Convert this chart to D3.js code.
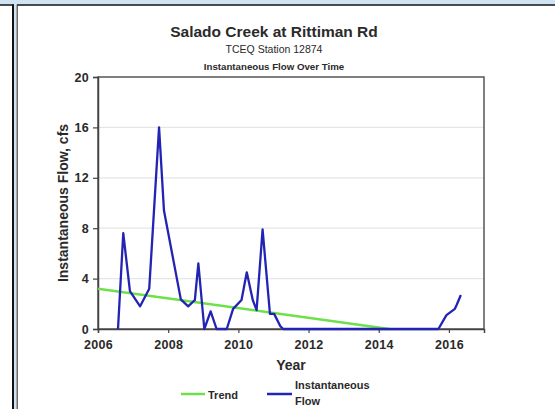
<!DOCTYPE html>
<html>
<head>
<meta charset="utf-8">
<script src="https://cdn.jsdelivr.net/npm/d3@7"></script>
<style>
  html, body { margin: 0; padding: 0; background: #fff; }
  svg { display: block; font-family: "Liberation Sans", Arial, sans-serif; }
</style>
</head>
<body>
<svg id="chart" width="555" height="409"></svg>
<script>
// Sampled instantaneous flow (decimal year, cfs)
const flowYears = [2006.57, 2006.72, 2006.91, 2007.20, 2007.46, 2007.74, 2007.88, 2008.36, 2008.57,
  2008.76, 2008.86, 2009.03, 2009.21, 2009.38, 2009.67, 2009.85, 2010.09, 2010.24, 2010.41,
  2010.52, 2010.69, 2010.90, 2011.02, 2011.20, 2011.28, 2012.0, 2013.0, 2014.0, 2015.0,
  2015.70, 2015.93, 2016.17, 2016.22, 2016.34];
const flowValues = [0, 7.6, 3.0, 1.8, 3.2, 16, 9.4, 2.35, 1.8,
  2.3, 5.2, 0, 1.4, 0, 0, 1.6, 2.3, 4.5, 2.3,
  1.5, 7.9, 1.2, 1.2, 0.2, 0, 0, 0, 0, 0,
  0, 1.1, 1.6, 1.9, 2.7];

// Linear trend endpoints
const trendYears = [2006, 2014.3];
const trendValues = [3.2, 0];

const xTicks = [2006, 2008, 2010, 2012, 2014, 2016];
const yTicks = [0, 4, 8, 12, 16, 20];

const svg = d3.select("#chart");
const W = 555, H = 409;

// Page frame
svg.append("rect").attr("x", 0).attr("y", 0).attr("width", W).attr("height", H).attr("fill", "#fff");
svg.append("rect").attr("x", 0).attr("y", 0).attr("width", W).attr("height", 4.5).attr("fill", "#cfe3f3");
svg.append("rect").attr("x", 14).attr("y", 0).attr("width", 2.5).attr("height", H).attr("fill", "#cfe3f3");
svg.append("line").attr("x1", 0).attr("x2", 14).attr("y1", 5).attr("y2", 5).attr("stroke", "#111").attr("stroke-width", 1.5);
svg.append("line").attr("x1", 13).attr("x2", 13).attr("y1", 4.5).attr("y2", H).attr("stroke", "#111").attr("stroke-width", 2);
svg.append("line").attr("x1", 17).attr("x2", W).attr("y1", 5).attr("y2", 5).attr("stroke", "#111").attr("stroke-width", 1.5);
svg.append("line").attr("x1", 17.2).attr("x2", 17.2).attr("y1", 4.5).attr("y2", H).attr("stroke", "#444").attr("stroke-width", 1.2);

const m = { left: 98, right: 484, top: 77, bottom: 329 };
const x = d3.scaleLinear().domain([2006, 2017]).range([m.left, m.right]);
const y = d3.scaleLinear().domain([0, 20]).range([m.bottom, m.top]);

const textCol = "#2a2a2a";

// Titles
svg.append("text").attr("x", 274).attr("y", 36.5).attr("text-anchor", "middle")
  .attr("font-size", 15.5).attr("font-weight", "bold").attr("fill", textCol).text("Salado Creek at Rittiman Rd");
svg.append("text").attr("x", 274).attr("y", 53).attr("text-anchor", "middle")
  .attr("font-size", 10.5).attr("fill", textCol).text("TCEQ Station 12874");
svg.append("text").attr("x", 274).attr("y", 70).attr("text-anchor", "middle")
  .attr("font-size", 9.7).attr("font-weight", "bold").attr("fill", textCol).text("Instantaneous Flow Over Time");

// Gridlines
svg.append("g").selectAll("line").data(yTicks.filter(d => d > 0 && d < 20)).join("line")
  .attr("x1", m.left).attr("x2", m.right)
  .attr("y1", d => y(d)).attr("y2", d => y(d))
  .attr("stroke", "#e6e6e6").attr("stroke-width", 1.2);

// Plot frame
svg.append("rect").attr("x", m.left).attr("y", m.top)
  .attr("width", m.right - m.left).attr("height", m.bottom - m.top)
  .attr("fill", "none").attr("stroke", "#555").attr("stroke-width", 1.5);

// Axes
const xAxis = svg.append("g").attr("transform", `translate(0,${m.bottom})`)
  .call(d3.axisBottom(x).tickValues(xTicks).tickFormat(d3.format("d")).tickSize(4).tickPadding(7));
const yAxis = svg.append("g").attr("transform", `translate(${m.left},0)`)
  .call(d3.axisLeft(y).tickValues(yTicks).tickSize(5).tickPadding(4));
[xAxis, yAxis].forEach(g => {
  g.select(".domain").attr("stroke", "#444").attr("stroke-width", 1.5);
  g.selectAll(".tick line").attr("stroke", "#444").attr("stroke-width", 1.2);
  g.selectAll(".tick text").attr("font-size", 12.5).attr("font-weight", "bold")
    .attr("letter-spacing", 0.3)
    .attr("fill", textCol).attr("font-family", "Liberation Sans, Arial, sans-serif");
});

// Axis titles
svg.append("text").attr("x", 291).attr("y", 370).attr("text-anchor", "middle")
  .attr("font-size", 14).attr("font-weight", "bold").attr("fill", textCol).text("Year");
svg.append("text").attr("transform", `translate(68,203) rotate(-90)`).attr("text-anchor", "middle")
  .attr("font-size", 14).attr("font-weight", "bold").attr("fill", textCol).text("Instantaneous Flow, cfs");

// Series
const line = d3.line().x(d => x(d[0])).y(d => y(d[1]));
const trend = trendYears.map((d, i) => [d, trendValues[i]]);
const flow = flowYears.map((d, i) => [d, flowValues[i]]);

svg.append("path").datum(trend).attr("d", line)
  .attr("fill", "none").attr("stroke", "#6ee04a").attr("stroke-width", 2.5);
svg.append("path").datum(flow).attr("d", line)
  .attr("fill", "none").attr("stroke", "#2424b4").attr("stroke-width", 2.3).attr("stroke-linejoin", "round");

// Legend
const leg = svg.append("g");
leg.append("line").attr("x1", 181).attr("x2", 205).attr("y1", 394).attr("y2", 394)
  .attr("stroke", "#6ee04a").attr("stroke-width", 2.5);
leg.append("text").attr("x", 208).attr("y", 398.5).attr("font-size", 11).attr("font-weight", "bold")
  .attr("fill", textCol).text("Trend");
leg.append("line").attr("x1", 267).attr("x2", 292).attr("y1", 394).attr("y2", 394)
  .attr("stroke", "#2424b4").attr("stroke-width", 2.5);
leg.append("text").attr("x", 295).attr("y", 389).attr("font-size", 11).attr("font-weight", "bold")
  .attr("fill", textCol).text("Instantaneous");
leg.append("text").attr("x", 295).attr("y", 405).attr("font-size", 11).attr("font-weight", "bold")
  .attr("fill", textCol).text("Flow");
</script>
</body>
</html>
